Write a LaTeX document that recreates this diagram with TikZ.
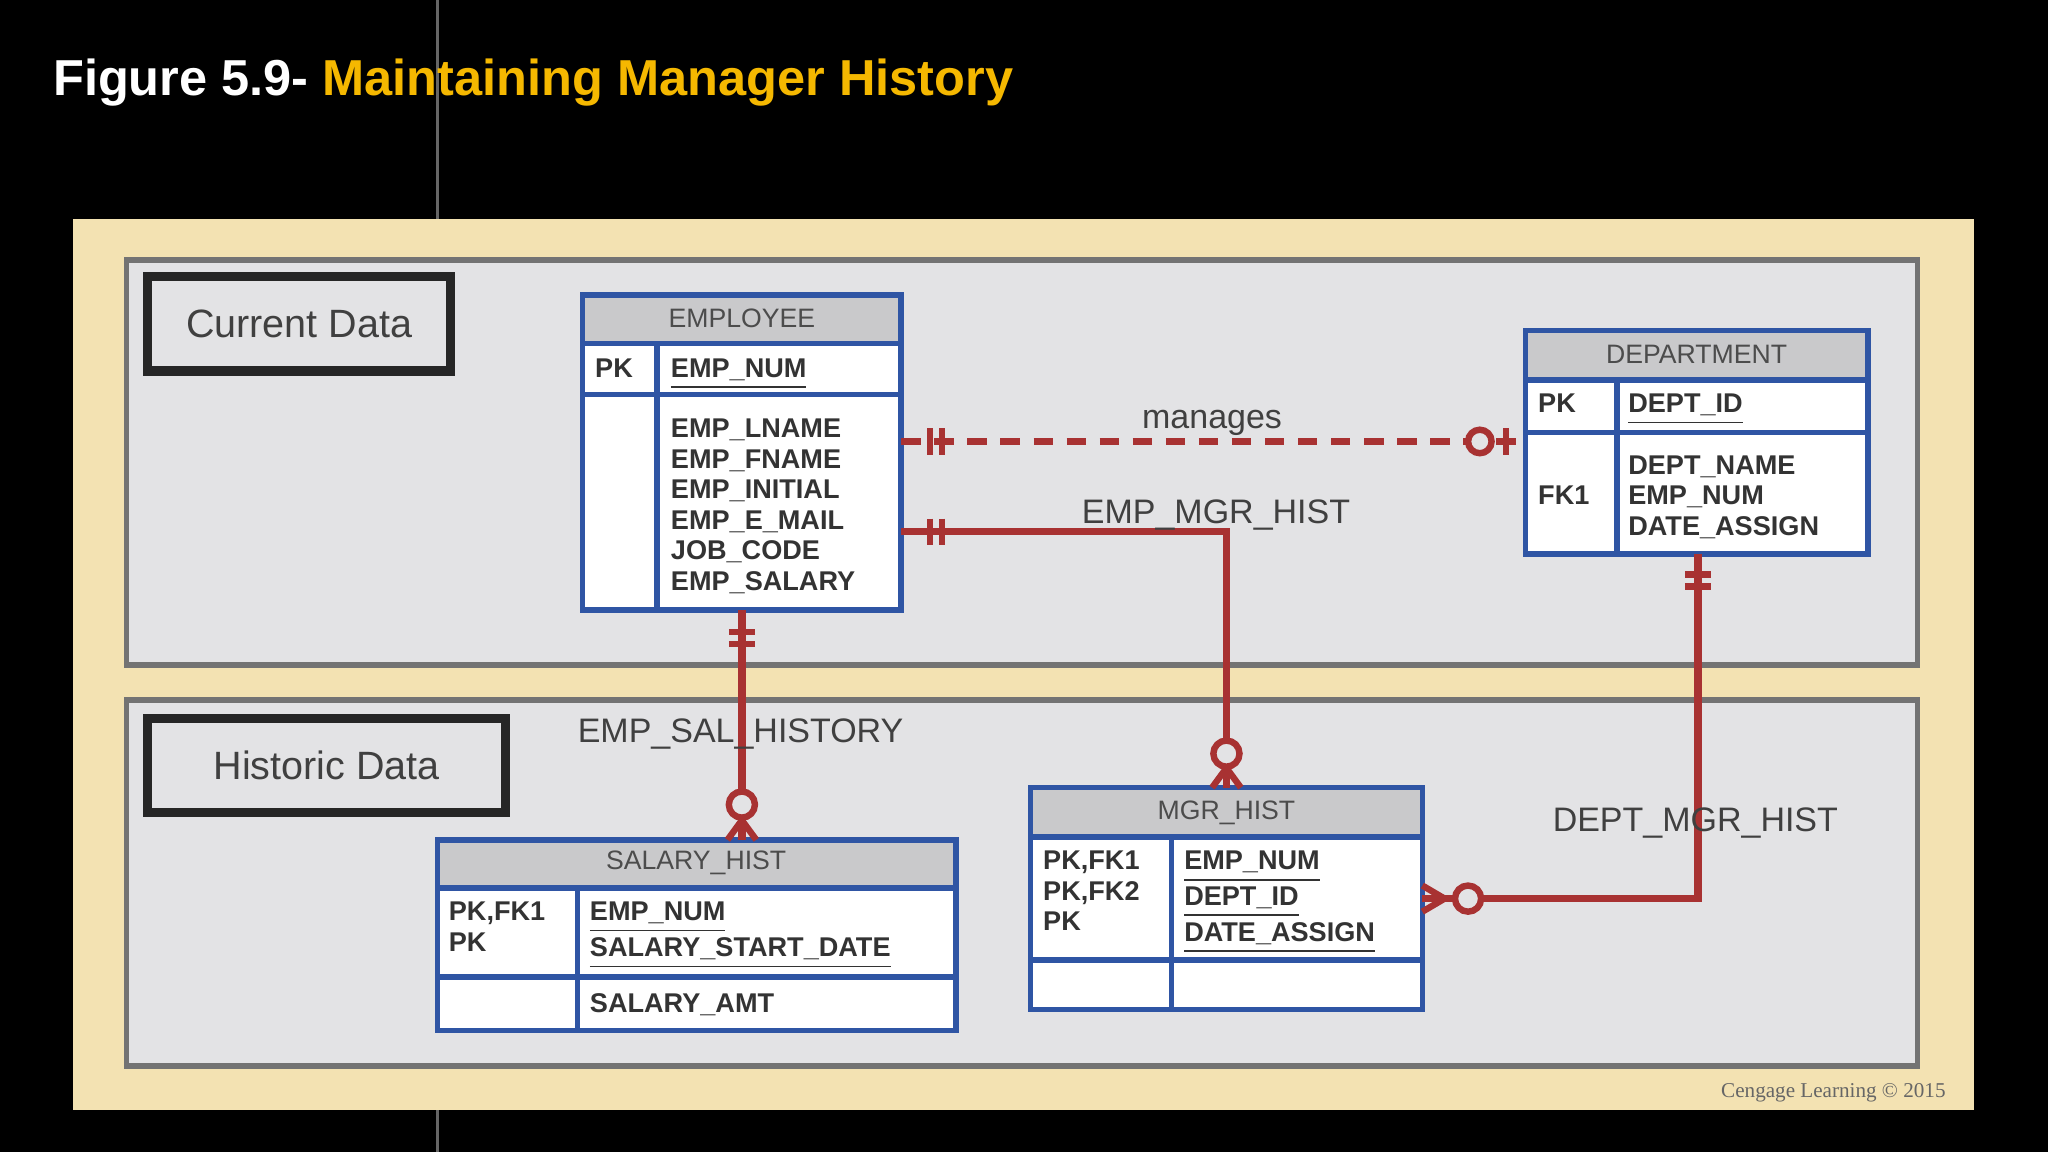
\documentclass[tikz,border=0pt]{standalone}
\usepackage{fontspec}
\setmainfont{Liberation Sans}
\begin{document}
\begin{tikzpicture}[x=0.01cm,y=-0.01cm,
  tbl/.style={draw=tblue,line width=1.2pt},
  hdr/.style={draw=tblue,line width=1.2pt,fill=hgray},
  att/.style={anchor=north west,font=\fontsize{5.9}{7.4}\selectfont\bfseries,text=black!80,align=left,inner sep=0pt},
  att2/.style={att,font=\fontsize{5.9}{6.65}\selectfont\bfseries},
  htxt/.style={font=\fontsize{5.8}{7}\selectfont,text=black!70},
  rel/.style={draw=relred,line width=1.6pt},
  lbl/.style={font=\fontsize{7.4}{9}\selectfont,text=black!75},
  mk/.style={draw=relred,line width=1.4pt}]
\definecolor{tblue}{HTML}{2F55A4}
\definecolor{hgray}{HTML}{C9C9CB}
\definecolor{relred}{HTML}{A83232}
\definecolor{beige}{HTML}{F3E2B2}
\definecolor{pgray}{HTML}{E3E3E5}
\definecolor{tyel}{HTML}{F5B800}
\useasboundingbox (0,0) rectangle (1568,882);
\fill[black] (0,0) rectangle (1568,882);
\draw[black!60,line width=0.6pt] (335,0) -- (335,882);
\node[anchor=west,font=\fontsize{11}{13}\selectfont\bfseries,inner sep=0pt] (title) at (40,63) {\color{white}Figure 5.9- \color{tyel}Maintaining Manager History};
\fill[beige] (56,168) rectangle (1511,850);
\draw[black!55,fill=pgray,line width=1.2pt] (97,199) rectangle (1468,509);
\draw[black!55,fill=pgray,line width=1.2pt] (97,536) rectangle (1468,816);
\draw[black!85,line width=2pt] (113,212) rectangle (345,284);
\node[lbl,font=\fontsize{8.6}{10}\selectfont] (curl) at (229,248) {Current Data};
\draw[black!85,line width=2pt] (113,550) rectangle (387,622);
\node[lbl,font=\fontsize{8.6}{10}\selectfont] (hisl) at (250,586) {Historic Data};
% EMPLOYEE
\fill[white] (446,226) rectangle (690,467);
\draw[hdr] (446,226) rectangle (690,263);
\node[htxt] (eh) at (568,244) {EMPLOYEE};
\draw[tbl] (446,226) rectangle (690,467);
\draw[tbl] (446,302) -- (690,302) (503,263) -- (503,467);
\node[att] (epk) at (455,274) {PK};
\node[att] (epkv) at (513,274) {\underline{EMP\_NUM}};
\node[att2] (eatt) at (513,320) {EMP\_LNAME\\EMP\_FNAME\\EMP\_INITIAL\\EMP\_E\_MAIL\\JOB\_CODE\\EMP\_SALARY};
% DEPARTMENT
\fill[white] (1168,253) rectangle (1430,424);
\draw[hdr] (1168,253) rectangle (1430,291);
\node[htxt] (dh) at (1299,271) {DEPARTMENT};
\draw[tbl] (1168,253) rectangle (1430,424);
\draw[tbl] (1168,331) -- (1430,331) (1238,291) -- (1238,424);
\node[att] (dpk) at (1177,301) {PK};
\node[att] (dpkv) at (1246,301) {\underline{DEPT\_ID}};
\node[att] (dfk) at (1177,371) {FK1};
\node[att2] (datt) at (1246,348) {DEPT\_NAME\\EMP\_NUM\\DATE\_ASSIGN};
% SALARY_HIST
\fill[white] (335,643) rectangle (732,789);
\draw[hdr] (335,643) rectangle (732,680);
\node[htxt] (sh) at (533,661) {SALARY\_HIST};
\draw[tbl] (335,643) rectangle (732,789);
\draw[tbl] (335,748) -- (732,748) (442,680) -- (442,789);
\node[att2] (spk) at (343,690) {PK,FK1\\PK};
\node[att2] (spkv) at (451,690) {\underline{EMP\_NUM}\\\underline{SALARY\_START\_DATE}};
\node[att] (satt) at (451,760) {SALARY\_AMT};
% MGR_HIST
\fill[white] (789,603) rectangle (1089,773);
\draw[hdr] (789,603) rectangle (1089,641);
\node[htxt] (mh) at (939,622) {MGR\_HIST};
\draw[tbl] (789,603) rectangle (1089,773);
\draw[tbl] (789,735) -- (1089,735) (897,641) -- (897,773);
\node[att2] (mpk) at (798,651) {PK,FK1\\PK,FK2\\PK};
\node[att2] (mpkv) at (906,651) {\underline{EMP\_NUM}\\\underline{DEPT\_ID}\\\underline{DATE\_ASSIGN}};
% connector endpoints
\coordinate (e1) at (690,338); \coordinate (d1) at (1168,338);
\coordinate (e2) at (690,407); \coordinate (m2) at (939,603);
\coordinate (e3) at (568,467); \coordinate (s3) at (568,643);
\coordinate (d4) at (1300,424); \coordinate (m4) at (1089,688);
\draw[rel,dash pattern=on 4.2pt off 3pt] (e1) -- (d1);
\draw[rel] (e2) -| (m2);
\draw[rel] (e3) -- (s3);
\draw[rel] (d4) |- (m4);
% marks
\draw[mk] (712,328) -- (712,348) (721,328) -- (721,348);
\draw[mk] (712,397) -- (712,417) (721,397) -- (721,417);
\draw[mk] (558,484) -- (578,484) (558,493) -- (578,493);
\draw[mk] (1290,440) -- (1310,440) (1290,449) -- (1310,449);
\draw[mk] (1153,328) -- (1153,348);
\draw[mk,fill=pgray] (1133,338) circle (9);
\draw[mk] (939,588) -- (928,603) (939,588) -- (950,603);
\draw[mk,fill=pgray] (939,577) circle (10);
\draw[mk] (568,628) -- (557,643) (568,628) -- (579,643);
\draw[mk,fill=pgray] (568,616) circle (10);
\draw[mk] (1106,688) -- (1089,678) (1106,688) -- (1089,698);
\draw[mk,fill=pgray] (1124,688) circle (10);
% labels
\node[lbl] (l1) at (928,324) {manages};
\node[lbl] (l2) at (931,394) {EMP\_MGR\_HIST};
\node[lbl] (l3) at (567,562) {EMP\_SAL\_HISTORY};
\node[lbl] (l4) at (1298,630) {DEPT\_MGR\_HIST};
\node[font=\fontsize{4.6}{5}\selectfont,text=black!60,anchor=east] (cp) at (1502,837) {\fontspec{Liberation Serif}Cengage Learning © 2015};
\end{tikzpicture}
\end{document}
